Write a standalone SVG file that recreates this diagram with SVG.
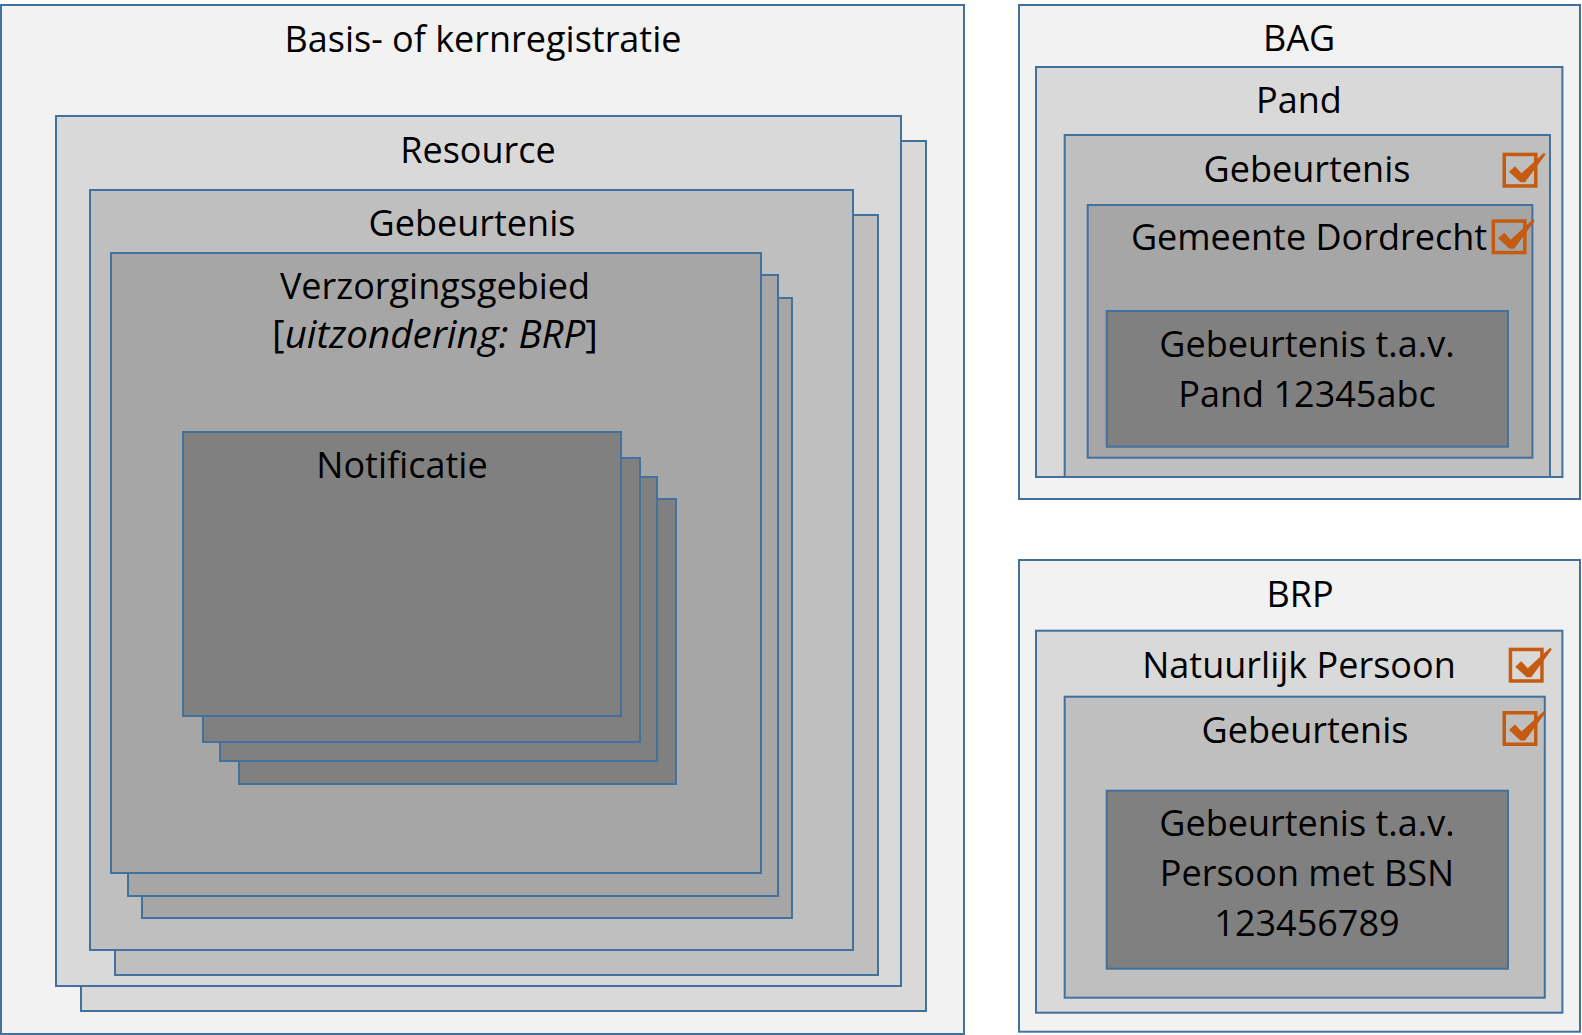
<svg xmlns="http://www.w3.org/2000/svg" xmlns:xlink="http://www.w3.org/1999/xlink" width="1582" height="1035" viewBox="0 0 1582 1035">
  <style>
    rect.b { stroke: #41719C; stroke-width: 2; }
    .l0 { fill: #F2F2F2; }
    .l1 { fill: #D9D9D9; }
    .l2 { fill: #BFBFBF; }
    .l3 { fill: #A6A6A6; }
    .l4 { fill: #808080; }
    text { font-family: "Open Sans", "Noto Sans", "Liberation Sans", sans-serif; font-size: 36px; fill: #000000; text-anchor: middle; }
    .it { font-style: italic; }
    .big { font-size: 38.5px; }
  </style>
  <defs>
    <g id="chk">
      <rect x="1.75" y="1.75" width="31.5" height="31.5" fill="none" stroke="#C55A11" stroke-width="3.5"/>
      <polygon points="6.5,19 12.5,13.5 19,20.5 41.5,0 43,1.8 22.5,29.5 18,29.5" fill="#C55A11"/>
    </g>
  </defs>
  <rect width="1582" height="1035" fill="#FFFFFF"/>

  <g id="basisregistratie">
    <rect class="b l0" x="1" y="5" width="963" height="1029"/>
    <text x="483" y="52">Basis- of kernregistratie</text>
  </g>
  <g id="resource">
    <rect class="b l1" x="81" y="141" width="845" height="870"/>
    <rect class="b l1" x="56" y="116" width="845" height="870"/>
    <text x="478" y="163">Resource</text>
  </g>
  <g id="gebeurtenis">
    <rect class="b l2" x="115" y="215" width="763" height="760"/>
    <rect class="b l2" x="90" y="190" width="763" height="760"/>
    <text x="472" y="236">Gebeurtenis</text>
  </g>
  <g id="verzorgingsgebied">
    <rect class="b l3" x="142" y="298" width="650" height="620"/>
    <rect class="b l3" x="128" y="275" width="650" height="621"/>
    <rect class="b l3" x="111" y="253" width="650" height="620"/>
    <text x="435" y="299">Verzorgingsgebied</text>
    <text class="big" x="435" y="348">[<tspan class="it">uitzondering: BRP</tspan>]</text>
  </g>
  <g id="notificatie">
    <rect class="b l4" x="239" y="499" width="437" height="285"/>
    <rect class="b l4" x="220" y="477" width="437" height="284"/>
    <rect class="b l4" x="203" y="458" width="437" height="284"/>
    <rect class="b l4" x="183" y="432" width="438" height="284"/>
    <text x="402" y="478">Notificatie</text>
  </g>

  <g id="bag">
    <rect class="b l0" x="1019" y="5" width="561" height="494"/>
    <text x="1299" y="51">BAG</text>
  </g>
  <g id="pand">
    <rect class="b l1" x="1036" y="67" width="526.4" height="410"/>
    <text x="1299" y="113">Pand</text>
  </g>
  <g id="bag-gebeurtenis">
    <rect class="b l2" x="1064.7" y="135" width="485.3" height="342"/>
    <text x="1307" y="182">Gebeurtenis</text>
    <use xlink:href="#chk" x="1502.5" y="152.7"/>
  </g>
  <g id="gemeente-dordrecht">
    <rect class="b l3" x="1087.7" y="205" width="444.7" height="252.7"/>
    <text x="1309" y="250">Gemeente Dordrecht</text>
    <use xlink:href="#chk" x="1491.6" y="219.3"/>
  </g>
  <g id="gebeurtenis-pand">
    <rect class="b l4" x="1106.7" y="311" width="401.3" height="135.7"/>
    <text x="1307" y="357">Gebeurtenis t.a.v.</text>
    <text x="1307" y="407">Pand 12345abc</text>
  </g>

  <g id="brp">
    <rect class="b l0" x="1019" y="560" width="561" height="471.7"/>
    <text x="1300" y="607">BRP</text>
  </g>
  <g id="natuurlijk-persoon">
    <rect class="b l1" x="1036" y="630.7" width="526.4" height="382"/>
    <text x="1299" y="678">Natuurlijk Persoon</text>
    <use xlink:href="#chk" x="1508.7" y="647.7"/>
  </g>
  <g id="brp-gebeurtenis">
    <rect class="b l2" x="1064.7" y="696.7" width="480.1" height="301"/>
    <text x="1305" y="743">Gebeurtenis</text>
    <use xlink:href="#chk" x="1502.5" y="711"/>
  </g>
  <g id="gebeurtenis-persoon">
    <rect class="b l4" x="1106.7" y="790.7" width="401.3" height="178"/>
    <text x="1307" y="836">Gebeurtenis t.a.v.</text>
    <text x="1307" y="886">Persoon met BSN</text>
    <text x="1307" y="936">123456789</text>
  </g>

  <g id="connectors"/>
</svg>
